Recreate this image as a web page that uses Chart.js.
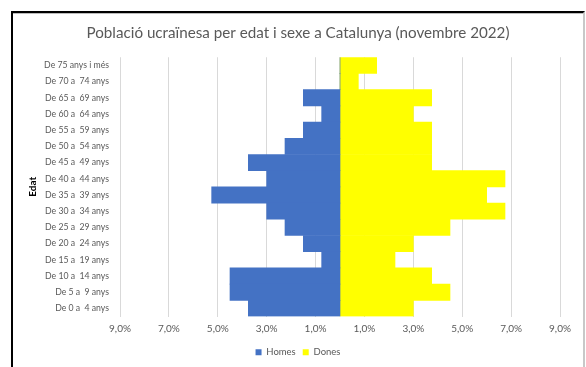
<!DOCTYPE html>
<html>
<head>
<meta charset="utf-8">
<script src="https://cdn.jsdelivr.net/npm/chart.js@4"></script>
<style>
  body { margin: 0; background: #fff; }
  #frame {
    position: absolute; left: 11px; top: 11px; width: 570px; height: 370px;
    border-top: 2px solid #000; border-left: 2px solid #000; border-right: 2px solid #c8c8c8;
    box-shadow: inset 0 1px 0 #bbb;
  }
  #pyramid { position: absolute; left: 0; top: 0; }
</style>
</head>
<body>
<div id="frame"></div>
<canvas id="pyramid" width="586" height="367"></canvas>
<script>
// Age groups, top row first
const ageGroups = [
  'De 75 anys i més', 'De 70 a  74 anys', 'De 65 a  69 anys', 'De 60 a  64 anys',
  'De 55 a  59 anys', 'De 50 a  54 anys', 'De 45 a  49 anys', 'De 40 a  44 anys',
  'De 35 a  39 anys', 'De 30 a  34 anys', 'De 25 a  29 anys', 'De 20 a  24 anys',
  'De 15 a  19 anys', 'De 10 a  14 anys', 'De 5 a  9 anys', 'De 0 a  4 anys'
];

// Share of the total population (%)
const homes = [0, 0, 1.5, 0.75, 1.5, 2.25, 3.75, 3.0, 5.25, 3.0, 2.25, 1.5, 0.75, 4.5, 4.5, 3.75];
const dones = [1.5, 0.75, 3.75, 3.0, 3.75, 3.75, 3.75, 6.75, 6.0, 6.75, 4.5, 3.0, 2.25, 3.75, 4.5, 3.0];

const xTicks = [-9, -7, -5, -3, -1, 1, 3, 5, 7, 9];

const font = 'Lato, "Open Sans", sans-serif';
const grey = '#595959';

new Chart(document.getElementById('pyramid'), {
  type: 'bar',
  data: {
    labels: ageGroups,
    datasets: [
      {
        label: 'Homes',
        data: homes.map(v => -v),
        backgroundColor: '#4472c4',
        barPercentage: 1,
        categoryPercentage: 1,
      },
      {
        label: 'Dones',
        data: dones,
        backgroundColor: '#ffff00',
        barPercentage: 1,
        categoryPercentage: 1,
      },
    ],
  },
  options: {
    indexAxis: 'y',
    responsive: false,
    animation: false,
    layout: { padding: { left: 36, right: 26, top: 14, bottom: 0 } },
    plugins: {
      title: {
        display: true,
        text: 'Població ucraïnesa per edat i sexe a Catalunya (novembre 2022)',
        color: grey,
        font: { family: font, size: 15.2, weight: 'normal' },
        padding: { top: 10, bottom: 15 },
      },
      legend: {
        position: 'bottom',
        labels: {
          color: grey,
          font: { family: font, size: 9.5 },
          boxWidth: 6,
          boxHeight: 6,
          padding: 7,
        },
      },
      tooltip: { enabled: false },
    },
    scales: {
      x: {
        stacked: true,
        min: -9,
        max: 9,
        afterBuildTicks: (axis) => {
          axis.ticks = xTicks.map(v => ({ value: v }));
        },
        grid: { color: '#d9d9d9', drawTicks: false },
        border: { display: false },
        ticks: {
          color: grey,
          font: { family: font, size: 10 },
          padding: 6,
          maxRotation: 0,
          callback: (v) => Math.abs(v).toFixed(1).replace('.', ',') + '%',
        },
      },
      y: {
        stacked: true,
        afterFit: (axis) => { axis.width = 84; },
        grid: { display: false },
        border: { display: false },
        title: {
          display: true,
          text: 'Edat',
          color: '#000',
          font: { family: font, size: 10, weight: 'bold' },
          padding: { top: -9, bottom: 0 },
        },
        ticks: {
          color: grey,
          font: { family: font, size: 8.7 },
          padding: 3,
          autoSkip: false,
        },
      },
    },
  },
});
</script>
</body>
</html>
